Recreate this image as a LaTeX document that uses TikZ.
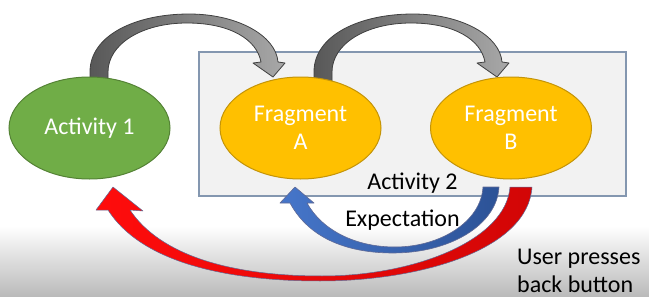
\documentclass[tikz,border=0pt]{standalone}
\usepackage{fontspec}
\setmainfont{Carlito}
\usetikzlibrary{shapes.geometric}
\definecolor{actgreen}{RGB}{112,173,71}
\definecolor{actgreenline}{RGB}{84,130,53}
\definecolor{fragyellow}{RGB}{255,192,0}
\definecolor{fragline}{RGB}{196,148,8}
\definecolor{boxfill}{RGB}{242,242,242}
\definecolor{boxline}{RGB}{132,151,176}
\definecolor{arrowdark}{RGB}{88,88,88}
\definecolor{arrowlight}{RGB}{168,168,168}
\definecolor{arrowedge}{RGB}{64,64,64}
\definecolor{expblue}{RGB}{70,118,202}
\definecolor{expbluedark}{RGB}{44,82,150}
\definecolor{backred}{RGB}{255,12,12}
\definecolor{backreddark}{RGB}{210,6,6}
\definecolor{edgeblue}{RGB}{96,106,150}
\tikzset{
  actnode/.style={ellipse, draw=actgreenline, line width=1pt, fill=actgreen, minimum width=161pt, minimum height=102pt, inner sep=0pt, text=white, align=center},
  fragnode/.style={ellipse, draw=fragline, line width=1pt, fill=fragyellow, minimum width=161pt, minimum height=102pt, inner sep=0pt, text=white, align=center},
  actbox/.style={draw=boxline, line width=1.4pt, fill=boxfill, inner sep=0pt},
  grayarrow/.style={left color=arrowdark, right color=arrowlight, draw=arrowedge, line width=0.8pt, line join=round},
  bluearrow/.style={left color=expblue, right color=expbluedark, draw=edgeblue, line width=0.6pt, line join=round},
  redarrow/.style={left color=backred, right color=backreddark, draw=edgeblue, line width=0.5pt, line join=round},
  labeltext/.style={text=black, align=left, inner sep=0pt}
}

\begin{document}
\begin{tikzpicture}[x=1pt, y=-1pt, every node/.style={font=\fontsize{24}{28}\selectfont}]
  \useasboundingbox (0,0) rectangle (649,297);
  % screen fade at the bottom
  \shade[top color=white, bottom color=gray!55] (0,226) rectangle (649,297);

  \node[actbox, minimum width=427pt, minimum height=144pt] (act2) at (412.5,124) {};

  % forward navigation
  \draw[grayarrow] (90,84) -- (90,72) .. controls (90,35) and (136,14) .. (189,14) .. controls (238,14) and (276,36) .. (278,62) -- (285,63) -- (273,77) -- (253,63) -- (261,62) .. controls (257,40) and (231,23) .. (187,23) .. controls (142,23) and (108,44) .. (108,72) -- (108,84) -- cycle;
  \draw[grayarrow] (314,86) -- (314,72) .. controls (314,35) and (360,14) .. (413,14) .. controls (462,14) and (500,36) .. (502,62) -- (509,63) -- (497,77) -- (477,63) -- (485,62) .. controls (481,40) and (455,23) .. (411,23) .. controls (366,23) and (332,44) .. (332,72) -- (332,86) -- cycle;

  % back navigation
  \draw[bluearrow] (483,187) .. controls (481,222) and (440,247) .. (395,247) .. controls (355,247) and (322,230) .. (307,203) -- (314,203) -- (295,187) -- (280,203) -- (290,203) .. controls (310,240) and (350,253) .. (393,253) .. controls (450,253) and (497,225) .. (499,187) -- cycle;
  \draw[redarrow] (510,187) .. controls (506,240) and (415,276) .. (322,276) .. controls (230,276) and (160,255) .. (130,210) -- (143,211) -- (113,187) -- (96,210) -- (108,210) .. controls (140,260) and (220,281) .. (320,281) .. controls (420,281) and (528,250) .. (532,187) -- cycle;

  \node[actnode] (act1) at (89.5,128) {Activity 1};
  \node[fragnode] (fraga) at (300.5,128) {Fragment\\A};
  \node[fragnode] (fragb) at (511,128) {Fragment\\B};

  \node[labeltext] (act2label) at (412.5,183) {Activity 2};
  \node[labeltext] (explabel) at (402.5,220) {Expectation};
  \node[labeltext, anchor=west] (backlabel) at (517,271) {User presses\\back button};
\end{tikzpicture}
\end{document}
